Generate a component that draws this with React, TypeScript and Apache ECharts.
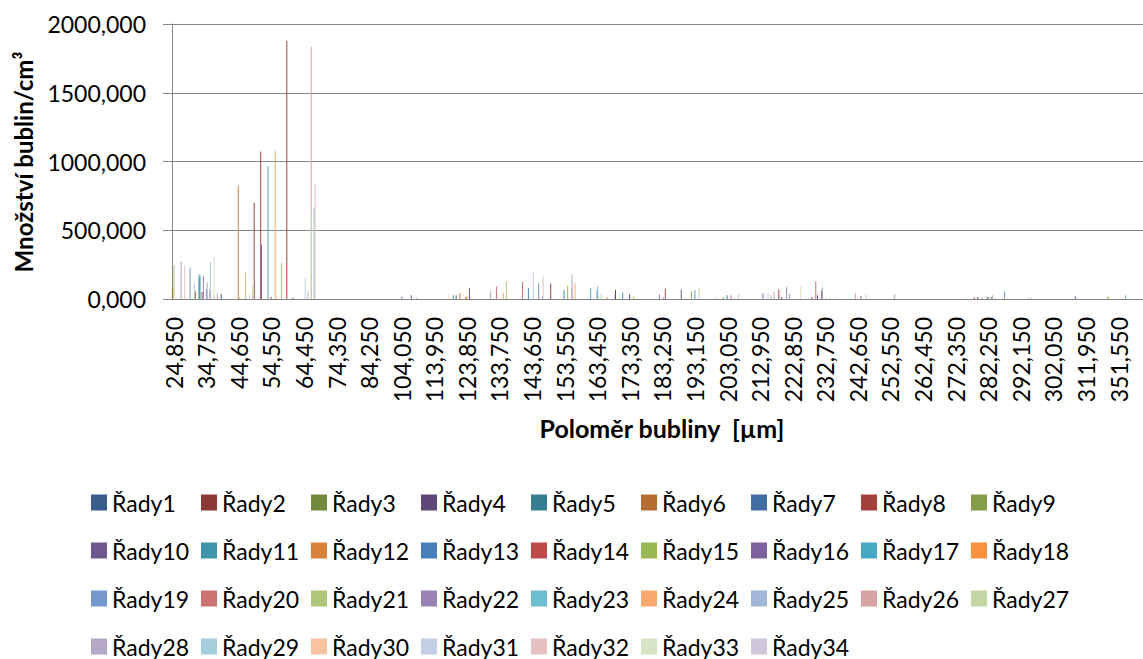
import React, { useEffect, useRef } from "react";
import * as echarts from "echarts";

// Tick labels of the category axis (every 10th category is labelled)
const tickRadii = [
  24.85, 34.75, 44.65, 54.55, 64.45, 74.35, 84.25, 104.05, 113.95, 123.85,
  133.75, 143.65, 153.55, 163.45, 173.35, 183.25, 193.15, 203.05, 212.95,
  222.85, 232.75, 242.65, 252.55, 262.45, 272.35, 282.25, 292.15, 302.05,
  311.95, 351.55,
];
const categoryCount = 298;

const seriesColors = [
  "#385D8A", "#8C3836", "#71893F", "#5C4776", "#357D91", "#B66D31",
  "#426DA1", "#A5403D", "#839D49", "#6E568F", "#3F93AC", "#D7813B",
  "#4A7EBB", "#BE4B48", "#98B954", "#7D60A0", "#46AAC5", "#F69240",
  "#7598CB", "#CC7371", "#AEC67B", "#9883B4", "#6FBDD1", "#F9A96E",
  "#A2B6D7", "#D8A3A2", "#C4D5A4", "#B4A7C8", "#A5CEDD", "#F9C3A2",
  "#C3CFE4", "#E5C2C1", "#D7E3C5", "#CFC7DB",
];

// Sparse values: [category index, value]
const rady1 = [[136, 41]];
const rady2: number[][] = [];
const rady3: number[][] = [];
const rady4 = [[37, 10], [136, 68], [187, 12], [198, 27]];
const rady5: number[][] = [];
const rady6 = [[0, 87], [7, 56], [90, 15]];
const rady7 = [[15, 35], [87, 27], [247, 12], [277, 20]];
const rady8 = [[9, 51], [25, 700], [27, 1073], [35, 1879], [116, 112], [186, 70], [246, 12]];
const rady9 = [[169, 12], [287, 20]];
const rady10 = [[91, 78], [156, 70]];
const rady11 = [[8, 178], [86, 27], [120, 63], [138, 47]];
const rady12 = [[20, 826], [88, 41]];
const rady13 = [[8, 152], [109, 78], [140, 34], [170, 27], [181, 41], [250, 15]];
const rady14 = [[30, 15], [151, 75], [196, 15], [199, 60], [251, 15]];
const rady15 = [[121, 97], [159, 56]];
const rady16 = [[27, 395], [73, 27], [130, 56], [140, 34], [211, 20]];
const rady17 = [[29, 966], [128, 78], [160, 63], [250, 12]];
const rady18 = [[90, 20], [133, 12]];
const rady19 = [[5, 230], [10, 70], [70, 20], [112, 114], [189, 34], [199, 85], [255, 56]];
const rady20 = [[99, 92], [107, 126], [171, 27], [197, 128]];
const rady21 = [[0, 245], [22, 192], [102, 128], [141, 20], [247, 12]];
const rady22 = [[9, 167], [11, 65], [149, 34], [188, 85], [248, 8]];
const rady23 = [[8, 172], [43, 668], [130, 92], [263, 10], [292, 27]];
const rady24 = [[31, 1080], [33, 264], [101, 41], [123, 116]];
const rady25 = [[10, 51], [41, 55], [113, 20]];
const rady26 = [[42, 1835], [122, 82], [184, 51], [209, 41]];
const rady27 = [[12, 25], [20, 15], [24, 100], [42, 608], [131, 34], [161, 85], [252, 10]];
const rady28 = [[2, 274], [10, 121], [97, 56], [122, 177], [150, 15], [183, 27], [221, 34], [251, 27], [262, 10]];
const rady29 = [[6, 112], [11, 268]];
const rady30 = [[31, 499], [172, 8], [173, 34], [200, 10], [243, 8], [249, 27]];
const rady31 = [[2, 230], [13, 40], [23, 30], [40, 155], [70, 10], [110, 199], [201, 10]];
const rady32 = [[3, 245], [13, 45], [43, 842], [113, 165], [173, 34], [182, 48]];
const rady33 = [[12, 310], [84, 34], [162, 8], [184, 27], [192, 97], [254, 10]];
const rady34 = [[14, 40], [74, 12], [157, 8], [166, 12], [203, 8], [212, 32]];

const seriesPoints = [
  rady1, rady2, rady3, rady4, rady5, rady6, rady7, rady8, rady9, rady10,
  rady11, rady12, rady13, rady14, rady15, rady16, rady17, rady18, rady19, rady20,
  rady21, rady22, rady23, rady24, rady25, rady26, rady27, rady28, rady29, rady30,
  rady31, rady32, rady33, rady34,
];
const seriesNames = seriesPoints.map((_, i) => `Řady${i + 1}`);

const FONT = "Lato, 'Open Sans', sans-serif";

const fmt = (v: number) => v.toFixed(3).replace(".", ",");

const categories = Array.from({ length: categoryCount }, (_, i) => {
  const j = Math.floor(i / 10);
  const m = i % 10;
  const a = tickRadii[j];
  const b = j + 1 < tickRadii.length ? tickRadii[j + 1] : a + 9.9;
  return fmt(a + ((b - a) * m) / 10);
});

export default function App() {
  const ref = useRef<HTMLDivElement>(null);
  useEffect(() => {
    if (!ref.current) return;
    const chart = echarts.init(ref.current, undefined, { renderer: "svg" });
    const series = seriesNames.map((name, k) => {
      const data: (number | null)[] = new Array(categoryCount).fill(null);
      for (const [idx, v] of seriesPoints[k]) data[idx] = v;
      return {
        type: "bar",
        name,
        data,
        barWidth: 1,
        barGap: "-90.8%",
        itemStyle: { color: seriesColors[k] },
        emphasis: { disabled: true },
      };
    });
    chart.setOption({
      animation: false,
      backgroundColor: "#ffffff",
      color: seriesColors,
      textStyle: { fontFamily: FONT },
      grid: { left: 172, top: 24, right: 0, bottom: 360, containLabel: false },
      xAxis: {
        type: "category",
        data: categories,
        boundaryGap: true,
        axisLine: { show: true, lineStyle: { color: "#878787", width: 1 } },
        axisTick: { show: false },
        axisLabel: {
          interval: 9,
          rotate: 90,
          margin: 18,
          fontSize: 23,
          color: "#000",
          fontFamily: FONT,
        },
        splitLine: { show: false },
      },
      yAxis: {
        type: "value",
        min: 0,
        max: 2000,
        interval: 500,
        axisLine: { show: true, lineStyle: { color: "#878787", width: 1 } },
        axisTick: { show: true, length: 9, lineStyle: { color: "#878787" } },
        axisLabel: {
          margin: 26,
          fontSize: 23,
          color: "#000",
          fontFamily: FONT,
          formatter: (v: number) => fmt(v),
        },
        splitLine: { show: true, lineStyle: { color: "#878787", width: 1 } },
      },
      legend: {
        data: seriesNames,
        left: 91,
        top: 483,
        width: 990,
        padding: 0,
        itemGap: 9,
        itemWidth: 16,
        itemHeight: 16,
        icon: "rect",
        selectedMode: false,
        textStyle: {
          fontSize: 23,
          color: "#000",
          fontFamily: FONT,
          width: 80,
          lineHeight: 39,
        },
      },
      graphic: [
        {
          type: "text",
          x: 23,
          y: 162,
          rotation: Math.PI / 2,
          style: {
            text: "Množství bublin/cm³",
            font: `bold 24px ${FONT}`,
            fill: "#000",
            align: "center",
            verticalAlign: "middle",
          },
        },
        {
          type: "text",
          x: 662,
          y: 428,
          style: {
            text: "Poloměr bubliny  [µm]",
            font: `bold 25px ${FONT}`,
            fill: "#000",
            align: "center",
            verticalAlign: "middle",
          },
        },
      ],
      series,
    });
    return () => chart.dispose();
  }, []);
  return (
    <div
      ref={ref}
      style={{ position: "absolute", left: 0, top: 0, width: 1143, height: 659 }}
    />
  );
}
